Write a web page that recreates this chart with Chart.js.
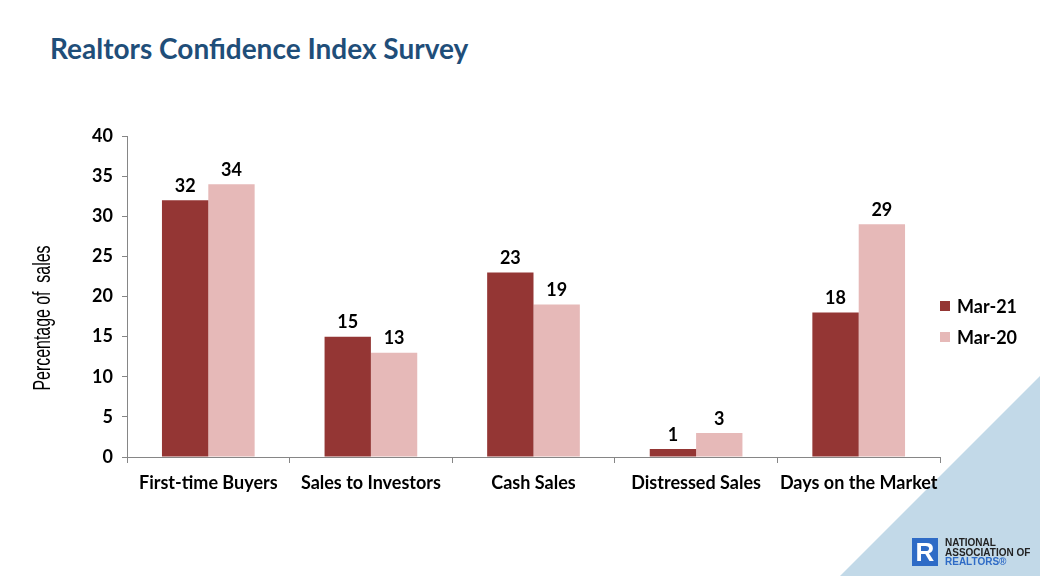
<!DOCTYPE html>
<html>
<head>
<meta charset="utf-8">
<script src="https://cdn.jsdelivr.net/npm/chart.js@4.4.1/dist/chart.umd.min.js"></script>
<style>
  html, body { margin: 0; padding: 0; background: #fff; }
  #page { position: relative; width: 1040px; height: 576px; overflow: hidden; font-family: Lato, "Open Sans", sans-serif; }
  #title { position: absolute; left: 50px; top: 31px; font-size: 28px; font-weight: bold; color: #1F4E79; }
  #deco { position: absolute; left: 0; top: 0; }
  #chartBox { position: absolute; left: 0; top: 0; width: 1040px; height: 576px; }
  #logo { position: absolute; left: 912px; top: 538px; }
  #logo .mark { position: absolute; left: 0; top: 0; width: 26px; height: 28px; background: #2E6BC6; color: #fff; font: bold 26px "Liberation Sans", sans-serif; line-height: 28px; text-align: center; }
  #logo .txt { position: absolute; left: 33px; top: 0; font: bold 10px "Liberation Sans", sans-serif; line-height: 9.6px; color: #222; white-space: nowrap; }
  #logo .txt span { color: #2E6BC6; }
</style>
</head>
<body>
<div id="page">
  <svg id="deco" width="1040" height="576"><polygon points="840,576 1040,376 1040,576" fill="#C2D9E8"/></svg>
  <div id="title">Realtors Confidence Index Survey</div>
  <div id="chartBox"><canvas id="chart"></canvas></div>
  <div id="logo"><div class="mark">R</div><div class="txt">NATIONAL<br>ASSOCIATION OF<br><span>REALTORS®</span></div></div>
</div>
<script>
  const categories = ['First-time Buyers', 'Sales to Investors', 'Cash Sales', 'Distressed Sales', 'Days on the Market'];
  const seriesNames = ['Mar-21', 'Mar-20'];
  const mar21 = [32, 15, 23, 1, 18];
  const mar20 = [34, 13, 19, 3, 29];
  const yTicks = [0, 5, 10, 15, 20, 25, 30, 35, 40];

  const COLORS = ['#943634', '#E6B9B8'];
  const FONT = 'Lato, "Open Sans", sans-serif';

  const valueLabels = {
    id: 'valueLabels',
    afterDatasetsDraw(chart) {
      const ctx = chart.ctx;
      ctx.save();
      ctx.font = 'bold 18px ' + FONT;
      ctx.fillStyle = '#000';
      ctx.textAlign = 'center';
      ctx.textBaseline = 'bottom';
      chart.data.datasets.forEach((ds, i) => {
        chart.getDatasetMeta(i).data.forEach((bar, j) => {
          ctx.fillText(String(ds.data[j]), bar.x, bar.y - 5);
        });
      });
      ctx.restore();
    },
  };

  const sideLegend = {
    id: 'sideLegend',
    afterDraw(chart) {
      const ctx = chart.ctx;
      ctx.save();
      ctx.font = 'bold 18px ' + FONT;
      ctx.textBaseline = 'middle';
      chart.data.datasets.forEach((ds, i) => {
        const y = 306 + i * 31;
        ctx.fillStyle = ds.backgroundColor;
        ctx.fillRect(940, y - 5, 10, 10);
        ctx.fillStyle = '#000';
        ctx.fillText(ds.label, 957, y + 1);
      });
      ctx.restore();
    },
  };

  // narrow axis title: squeeze a regular font to the length seen in the picture
  const yTitle = {
    id: 'yTitle',
    afterDraw(chart) {
      const ctx = chart.ctx;
      const text = 'Percentage of  sales';
      ctx.save();
      ctx.translate(44, 318);
      ctx.rotate(-Math.PI / 2);
      ctx.font = '23px "Liberation Sans", sans-serif';
      const w = ctx.measureText(text).width;
      ctx.scale(145 / w, 1);
      ctx.fillStyle = '#000';
      ctx.textAlign = 'center';
      ctx.textBaseline = 'middle';
      ctx.fillText(text, 0, 0);
      ctx.restore();
    },
  };

  new Chart(document.getElementById('chart'), {
    type: 'bar',
    data: {
      labels: categories,
      datasets: [
        { label: seriesNames[0], data: mar21, backgroundColor: COLORS[0], categoryPercentage: 0.57, barPercentage: 1.0 },
        { label: seriesNames[1], data: mar20, backgroundColor: COLORS[1], categoryPercentage: 0.57, barPercentage: 1.0 },
      ],
    },
    options: {
      responsive: true,
      maintainAspectRatio: false,
      animation: false,
      layout: { padding: { left: 0, top: 136, right: 100, bottom: 0 } },
      plugins: {
        legend: { display: false },
        tooltip: { enabled: false },
      },
      scales: {
        x: {
          afterFit: (s) => { s.height = 119; },
          border: { color: '#868686' },
          grid: { offset: true, drawOnChartArea: false, drawTicks: true, tickLength: 6, color: '#868686' },
          ticks: { color: '#000', padding: 9, font: { family: FONT, size: 18, weight: 'bold' }, maxRotation: 0, autoSkip: false },
        },
        y: {
          min: 0,
          max: 40,
          afterFit: (s) => { s.width = 127; },
          afterBuildTicks: (s) => { s.ticks = yTicks.map((v) => ({ value: v })); },
          border: { color: '#868686' },
          grid: { drawOnChartArea: false, drawTicks: true, tickLength: 5, color: '#868686' },
          ticks: { color: '#000', padding: 9, font: { family: FONT, size: 18, weight: 'bold' } },
        },
      },
    },
    plugins: [valueLabels, sideLegend, yTitle],
  });
</script>
</body>
</html>
